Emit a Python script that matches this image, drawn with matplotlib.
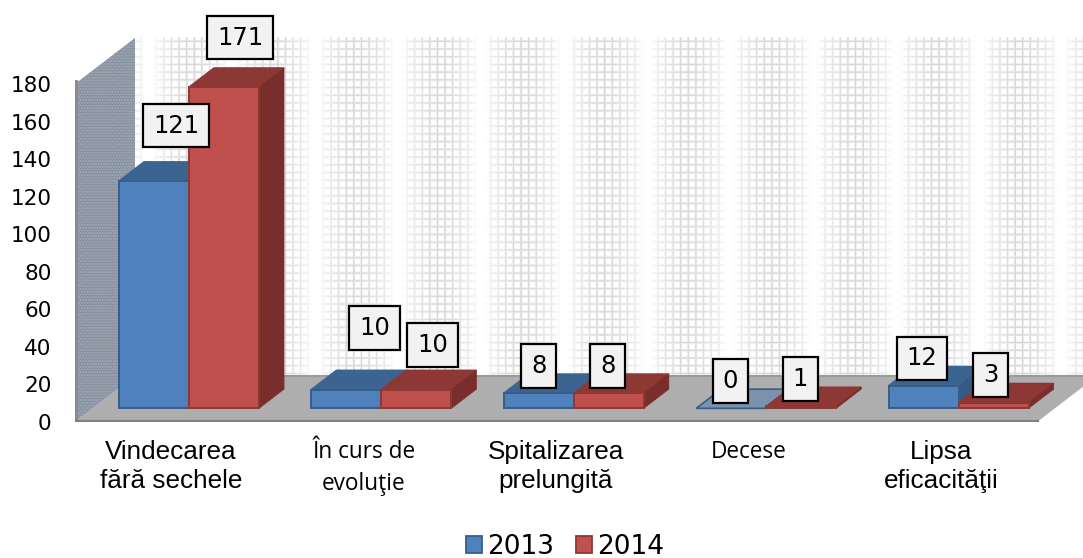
import numpy as np
import matplotlib
matplotlib.use("Agg")
import matplotlib.pyplot as plt
from matplotlib.patches import Patch, Polygon

categories = ["Vindecarea\nfără sechele", "În curs de\nevoluţie", "Spitalizarea\nprelungită",
              "Decese", "Lipsa\neficacităţii"]
values_2013 = [121, 10, 8, 0, 12]
values_2014 = [171, 10, 8, 1, 3]
y_ticks = list(range(0, 181, 20))
series_names = ["2013", "2014"]

# label offsets from the top of each bar, in pixels
offsets_2013 = [(22, 58), (28, 64), (0, 30), (-1, 30), (-2, 30)]
offsets_2014 = [(16, 52), (16, 47), (-1, 30), (-1, 30), (-3, 30)]

# colours: front, top, side, edge
blue = ("#4f81bd", "#3c6490", "#345a85", "#385d8a")
red = ("#c0504d", "#8e3835", "#7a2e2c", "#8c3836")

px_x = 1 / 192.4
px_y = 1 / 1.878
depth_x = 60 * px_x
depth_y = 46 * px_y
bar_width = 70 * px_x
d_front = 0.297
d_back = 0.714


def proj(x, v, d):
    return (x + d * depth_x, v + d * depth_y)


fig = plt.figure(figsize=(10.83, 5.58), dpi=100)
ax = fig.add_axes([75 / 1083, 136 / 558, 1008 / 1083, 422 / 558])
x_min, x_max = -0.5, 1008 * px_x - 0.5
y_min, y_max = 0, 422 * px_y

# back wall grid, fades in and out along x
wall_w, wall_h = 970, 338
xx, yy = np.meshgrid(np.arange(wall_w) + 135, np.arange(wall_h))
fade = np.clip(3.2 * np.abs(np.sin(np.pi * (xx - 315) / 83)) - 0.3, 0, 1)
vline = np.exp(-(((xx % 7.6) - 3.8) ** 2) / 1.0)
hline = np.exp(-(((yy % 7.7) - 3.8) ** 2) / 1.0)
strong = 0.7 + 0.3 * np.cos(2 * np.pi * (xx - 356) / 83)
wall = 1 - 0.16 * fade * strong * np.maximum(vline, hline)
x0, v_top = proj(-0.5, 180, 1)
ax.imshow(wall, cmap="gray", vmin=0, vmax=1, aspect="auto", zorder=1,
          extent=(x0, x0 + wall_w * px_x, depth_y, v_top))

# side wall
side_wall = [proj(-0.5, 0, 0), proj(-0.5, 0, 1), proj(-0.5, 180, 1), proj(-0.5, 180, 0)]
ax.add_patch(Polygon(side_wall, facecolor="#88929f", edgecolor="#a3adb8", hatch="......",
                     linewidth=0, zorder=2))
ax.plot([x_min, x_min], [0, 180 + 1], color="#8a8a8a", linewidth=3.5, zorder=2)

# floor
floor = [proj(-0.5, 0, 0), proj(4.5, 0, 0), proj(4.5, 0, 1), proj(-0.5, 0, 1)]
ax.add_patch(Polygon(floor, facecolor="#aeaeae", edgecolor="none", zorder=3))
ax.plot([floor[3][0], floor[2][0]], [floor[3][1], floor[2][1]], color="#9a9a9a", linewidth=1.5, zorder=3)
ax.plot([x_min, 4.5], [0, 0], color="#808080", linewidth=3, zorder=3)

all_series = [(values_2013, blue, -0.5, offsets_2013), (values_2014, red, 0.5, offsets_2014)]
z = 4
for i in range(len(categories)):
    for values, colors, side, offsets in all_series:
        v = values[i]
        left = i + side * bar_width - bar_width / 2
        right = left + bar_width
        base = d_front * depth_y
        front_col, top_col, side_col, edge = colors
        top = [proj(left, v, d_front), proj(right, v, d_front), proj(right, v, d_back), proj(left, v, d_back)]
        flat = v == 0
        ax.add_patch(Polygon(top, facecolor="#7b92ad" if flat else top_col,
                             edgecolor=edge if flat else top_col, linewidth=1.2, zorder=z))
        if v > 0:
            side_face = [proj(right, 0, d_front), proj(right, 0, d_back), proj(right, v, d_back), proj(right, v, d_front)]
            ax.add_patch(Polygon(side_face, facecolor=side_col, edgecolor=side_col, linewidth=0.5, zorder=z))
            ax.bar(left + depth_x * d_front + bar_width / 2, v, bar_width, bottom=base,
                   color=front_col, edgecolor=edge, linewidth=1.4, zorder=z + 0.5)
        z += 1

# data labels sit above all the bars
for values, colors, side, offsets in all_series:
    for i, v in enumerate(values):
        cx = i + side * bar_width + d_front * depth_x
        ax.annotate(str(v), (cx, v + d_front * depth_y), xytext=(offsets[i][0] * 0.72, offsets[i][1] * 0.72),
                    textcoords="offset points", ha="center", va="center_baseline", fontsize=17.5,
                    family="DejaVu Sans", zorder=50,
                    bbox=dict(boxstyle="square,pad=0.4", facecolor="#f2f2f2", edgecolor="black", linewidth=1.6))

ax.set_xlim(x_min, x_max)
ax.set_ylim(y_min, y_max)
ax.set_yticks(y_ticks)
ax.set_xticks(range(len(categories)))
ax.set_xticklabels(categories)
ax.tick_params(axis="y", length=0, pad=17, labelsize=15.5)
ax.tick_params(axis="x", length=0, pad=13)
for tick, name in zip(ax.get_xticklabels(), categories):
    if name.startswith(("În", "Decese")):
        tick.set_family("Open Sans")
        tick.set_fontsize(16.3)
        tick.set_linespacing(1.45)
    else:
        tick.set_family("Liberation Sans")
        tick.set_fontsize(18.8)
        tick.set_linespacing(1.25)
for spine in ax.spines.values():
    spine.set_visible(False)

handles = [Patch(facecolor=blue[0], edgecolor=blue[3], linewidth=1.3),
           Patch(facecolor=red[0], edgecolor=red[3], linewidth=1.3)]
fig.legend(handles, series_names, ncol=2, frameon=False, loc="center",
           bbox_to_anchor=(565 / 1083, 1 - 547 / 558), fontsize=19, handlelength=0.6,
           handleheight=0.6, handletextpad=0.2, columnspacing=0.85, borderpad=0, borderaxespad=0)

fig.savefig("out.png", dpi=100)
